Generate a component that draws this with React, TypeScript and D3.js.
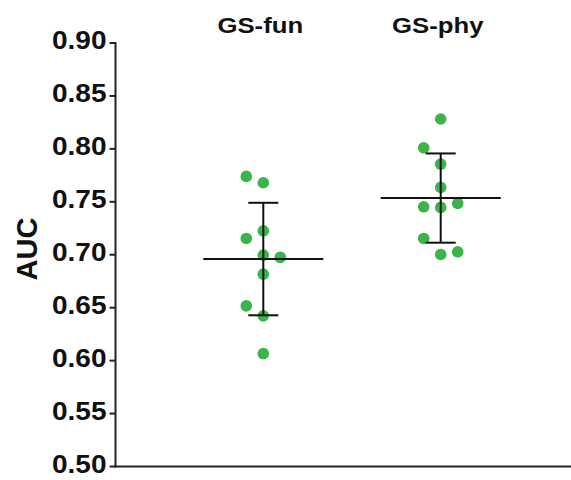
import React from "react";
import * as d3 from "d3";

const groups = ["GS-fun", "GS-phy"];
const gsFun = [0.774, 0.768, 0.7226, 0.7154, 0.6996, 0.6975, 0.6817, 0.6517, 0.6423, 0.6067];
const gsPhy = [0.8282, 0.801, 0.7856, 0.7636, 0.7485, 0.7453, 0.7447, 0.7154, 0.7028, 0.7003];
// horizontal jitter column of each point (-1 left, 0 centre, 1 right)
const gsFunCols = [-1, 0, 0, -1, 0, 1, 0, -1, 0, 0];
const gsPhyCols = [0, -1, 0, 0, 1, -1, 0, -1, 1, 0];
const yTicks = [0.5, 0.55, 0.6, 0.65, 0.7, 0.75, 0.8, 0.85, 0.9];

const W = 571;
const H = 480;
const axisX = 115.5;
const yTop = 43;
const yBottom = 466.5;
const green = "#3cb44a";
const font = "'Liberation Sans', Arial, sans-serif";
const stretch = 1.12;

export default function App() {
  const y = d3.scaleLinear().domain([0.5, 0.9]).range([yBottom, yTop]);
  const x = d3.scalePoint<string>().domain(groups).range([263.3, 440.7]);
  const series = [
    { name: groups[0], values: gsFun, cols: gsFunCols },
    { name: groups[1], values: gsPhy, cols: gsPhyCols },
  ];
  const colStep = 17;

  return (
    <svg
      width={W}
      height={H}
      style={{ position: "absolute", left: 0, top: 0, background: "#fff" }}
      fontFamily={font}
    >
      {/* axes */}
      <line x1={axisX} x2={axisX} y1={yTop - 1} y2={yBottom + 1} stroke="#222" strokeWidth={2} />
      <line x1={axisX - 1} x2={W} y1={yBottom} y2={yBottom} stroke="#222" strokeWidth={2} />
      {yTicks.map((t) => (
        <g key={t}>
          <line x1={axisX - 6} x2={axisX} y1={y(t)} y2={y(t)} stroke="#222" strokeWidth={2} />
          <text
            transform={`translate(${axisX - 9},${y(t) + 6}) scale(${stretch},1)`}
            textAnchor="end"
            fontSize={25}
            fontWeight="bold"
            fill="#111"
          >
            {t.toFixed(2)}
          </text>
        </g>
      ))}
      <text
        transform={`translate(36.5,249) rotate(-90)`}
        textAnchor="middle"
        fontSize={29}
        fontWeight="bold"
        fill="#111"
      >
        AUC
      </text>

      {series.map((s) => {
        const cx = x(s.name)!;
        const mean = d3.mean(s.values)!;
        const sd = d3.deviation(s.values)!;
        return (
          <g key={s.name}>
            <text
              transform={`translate(${cx - 3},32.7) scale(${stretch},1)`}
              textAnchor="middle"
              fontSize={23}
              fontWeight="bold"
              fill="#111"
            >
              {s.name}
            </text>
            {s.values.map((v, i) => (
              <circle key={i} cx={cx + s.cols[i] * colStep} cy={y(v)} r={5.8} fill={green} />
            ))}
            <line x1={cx} x2={cx} y1={y(mean + sd)} y2={y(mean - sd)} stroke="#111" strokeWidth={2} />
            <line x1={cx - 15} x2={cx + 15} y1={y(mean + sd)} y2={y(mean + sd)} stroke="#111" strokeWidth={2} />
            <line x1={cx - 15} x2={cx + 15} y1={y(mean - sd)} y2={y(mean - sd)} stroke="#111" strokeWidth={2} />
            <line x1={cx - 60} x2={cx + 60} y1={y(mean)} y2={y(mean)} stroke="#111" strokeWidth={2} />
          </g>
        );
      })}
    </svg>
  );
}
